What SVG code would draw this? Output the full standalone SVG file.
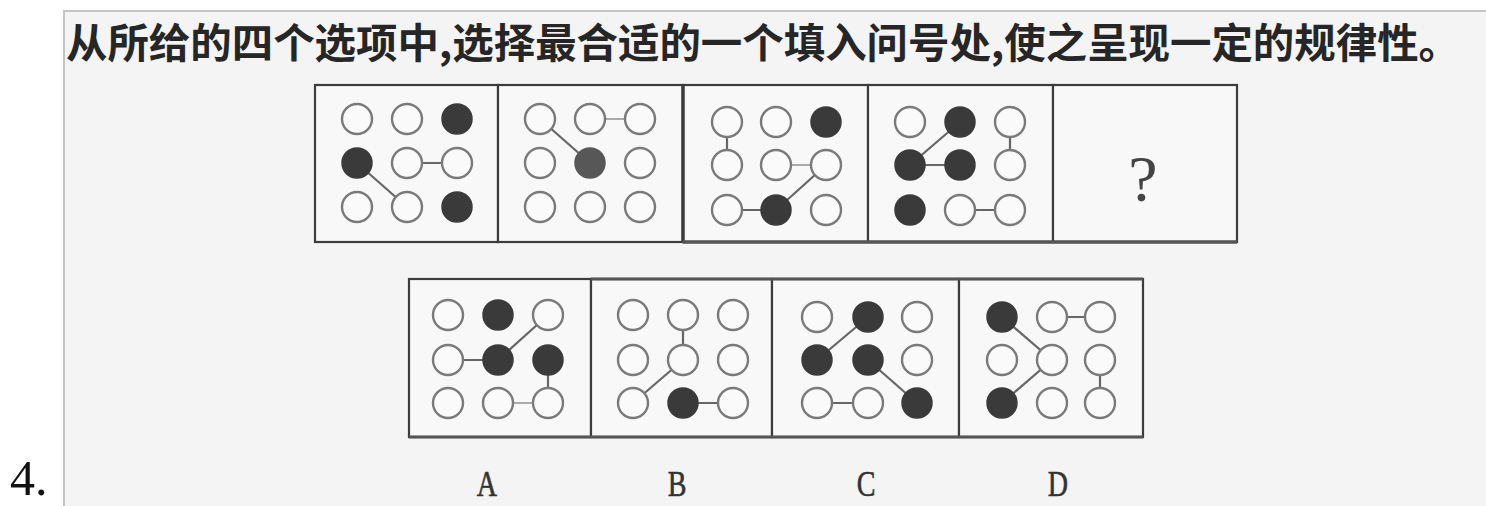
<svg xmlns="http://www.w3.org/2000/svg" width="1486" height="506" viewBox="0 0 1486 506">
<style>
.frame{fill:#f4f4f4;stroke:#c4c4c4;stroke-width:2}
.panel{fill:#f8f8f8;stroke:#3c3c3c;stroke-width:2.2}
.o{fill:#fafafa;stroke:#7a7a7a;stroke-width:2.4}
.f{fill:#3a3a3a;stroke:#3a3a3a;stroke-width:1.5}
.f2{fill:#575757;stroke:#575757;stroke-width:1.5}
.ln{stroke:#666;stroke-width:2.2;fill:none}
.lnf{stroke:#aaa;stroke-width:2;fill:none}
.title{font-family:"Noto Sans CJK SC","Noto Sans CJK TC",sans-serif;font-weight:bold;font-size:41px;fill:#262626}
.lab{font-family:"Liberation Serif",serif;font-size:36px;fill:#333;stroke:#333;stroke-width:0.6;text-anchor:middle}
</style>
<rect x="0" y="0" width="1486" height="506" fill="#ffffff"/>
<rect class="frame" x="64" y="11" width="1430" height="500"/>
<text class="title" x="66" y="58" textLength="1394" lengthAdjust="spacingAndGlyphs">从所给的四个选项中,选择最合适的一个填入问号处,使之呈现一定的规律性。</text>
<text x="10" y="495" font-family="Liberation Serif,serif" font-size="50" fill="#111">4.</text>

<g id="panels">
<rect class="panel" x="315" y="85" width="183" height="157"/>
<rect class="panel" x="498" y="85" width="185" height="157"/>
<rect class="panel" x="683" y="85" width="185" height="157"/>
<rect class="panel" x="868" y="85" width="185" height="157"/>
<rect class="panel" x="1053" y="85" width="184" height="157"/>
<line x1="683" y1="85" x2="683" y2="242" stroke="#3c3c3c" stroke-width="3.5"/>
<line x1="683" y1="242" x2="1237" y2="242" stroke="#555" stroke-width="3.5"/>
<rect class="panel" x="409" y="279" width="182" height="158"/>
<rect class="panel" x="591" y="279" width="181" height="158"/>
<rect class="panel" x="772" y="279" width="187" height="158"/>
<rect class="panel" x="959" y="279" width="184" height="158"/>
<line x1="591" y1="279" x2="1143" y2="279" stroke="#555" stroke-width="3"/>
<line x1="409" y1="437" x2="1143" y2="437" stroke="#555" stroke-width="3"/>
</g>

<g id="connectors">
<line class="ln" x1="407" y1="163" x2="457" y2="163"/>
<line class="ln" x1="357" y1="163" x2="407" y2="207"/>
<line class="lnf" x1="590" y1="119" x2="640" y2="119"/>
<line class="ln" x1="540" y1="119" x2="590" y2="163"/>
<line class="ln" x1="727" y1="122" x2="727" y2="165"/>
<line class="lnf" x1="776" y1="165" x2="826" y2="165"/>
<line class="ln" x1="727" y1="210" x2="776" y2="210"/>
<line class="ln" x1="776" y1="210" x2="826" y2="165"/>
<line class="ln" x1="910" y1="165" x2="960" y2="122"/>
<line class="ln" x1="910" y1="165" x2="960" y2="165"/>
<line class="ln" x1="1010" y1="122" x2="1010" y2="165"/>
<line class="ln" x1="960" y1="210" x2="1010" y2="210"/>
<line class="ln" x1="448" y1="360" x2="498" y2="360"/>
<line class="ln" x1="498" y1="360" x2="548" y2="315"/>
<line class="ln" x1="548" y1="360" x2="548" y2="403"/>
<line class="lnf" x1="498" y1="403" x2="548" y2="403"/>
<line class="ln" x1="683" y1="315" x2="683" y2="360"/>
<line class="ln" x1="683" y1="360" x2="633" y2="403"/>
<line class="ln" x1="683" y1="403" x2="733" y2="403"/>
<line class="ln" x1="817" y1="360" x2="868" y2="317"/>
<line class="ln" x1="868" y1="360" x2="917" y2="403"/>
<line class="ln" x1="817" y1="403" x2="868" y2="403"/>
<line class="ln" x1="1052" y1="317" x2="1100" y2="317"/>
<line class="ln" x1="1002" y1="317" x2="1052" y2="360"/>
<line class="ln" x1="1052" y1="360" x2="1002" y2="403"/>
<line class="ln" x1="1100" y1="360" x2="1100" y2="403"/>
</g>

<g id="fig1">
<circle class="o" cx="357" cy="119" r="15"/><circle class="o" cx="407" cy="119" r="15"/><circle class="f" cx="457" cy="119" r="15"/>
<circle class="f" cx="357" cy="163" r="15"/><circle class="o" cx="407" cy="163" r="15"/><circle class="o" cx="457" cy="163" r="15"/>
<circle class="o" cx="357" cy="207" r="15"/><circle class="o" cx="407" cy="207" r="15"/><circle class="f" cx="457" cy="207" r="15"/>
</g>
<g id="fig2">
<circle class="o" cx="540" cy="119" r="15"/><circle class="o" cx="590" cy="119" r="15"/><circle class="o" cx="640" cy="119" r="15"/>
<circle class="o" cx="540" cy="163" r="15"/><circle class="f2" cx="590" cy="163" r="15"/><circle class="o" cx="640" cy="163" r="15"/>
<circle class="o" cx="540" cy="207" r="15"/><circle class="o" cx="590" cy="207" r="15"/><circle class="o" cx="640" cy="207" r="15"/>
</g>
<g id="fig3">
<circle class="o" cx="727" cy="122" r="15"/><circle class="o" cx="776" cy="122" r="15"/><circle class="f" cx="826" cy="122" r="15"/>
<circle class="o" cx="727" cy="165" r="15"/><circle class="o" cx="776" cy="165" r="15"/><circle class="o" cx="826" cy="165" r="15"/>
<circle class="o" cx="727" cy="210" r="15"/><circle class="f" cx="776" cy="210" r="15"/><circle class="o" cx="826" cy="210" r="15"/>
</g>
<g id="fig4">
<circle class="o" cx="910" cy="122" r="15"/><circle class="f" cx="960" cy="122" r="15"/><circle class="o" cx="1010" cy="122" r="15"/>
<circle class="f" cx="910" cy="165" r="15"/><circle class="f" cx="960" cy="165" r="15"/><circle class="o" cx="1010" cy="165" r="15"/>
<circle class="f" cx="910" cy="210" r="15"/><circle class="o" cx="960" cy="210" r="15"/><circle class="o" cx="1010" cy="210" r="15"/>
</g>
<g id="fig5">
<text x="1143" y="201" font-family="Liberation Serif,serif" font-size="66" fill="#444" text-anchor="middle">?</text>
</g>
<g id="optA">
<circle class="o" cx="448" cy="315" r="15"/><circle class="f" cx="498" cy="315" r="15"/><circle class="o" cx="548" cy="315" r="15"/>
<circle class="o" cx="448" cy="360" r="15"/><circle class="f" cx="498" cy="360" r="15"/><circle class="f" cx="548" cy="360" r="15"/>
<circle class="o" cx="448" cy="403" r="15"/><circle class="o" cx="498" cy="403" r="15"/><circle class="o" cx="548" cy="403" r="15"/>
</g>
<g id="optB">
<circle class="o" cx="633" cy="315" r="15"/><circle class="o" cx="683" cy="315" r="15"/><circle class="o" cx="733" cy="315" r="15"/>
<circle class="o" cx="633" cy="360" r="15"/><circle class="o" cx="683" cy="360" r="15"/><circle class="o" cx="733" cy="360" r="15"/>
<circle class="o" cx="633" cy="403" r="15"/><circle class="f" cx="683" cy="403" r="15"/><circle class="o" cx="733" cy="403" r="15"/>
</g>
<g id="optC">
<circle class="o" cx="817" cy="317" r="15"/><circle class="f" cx="868" cy="317" r="15"/><circle class="o" cx="917" cy="317" r="15"/>
<circle class="f" cx="817" cy="360" r="15"/><circle class="f" cx="868" cy="360" r="15"/><circle class="o" cx="917" cy="360" r="15"/>
<circle class="o" cx="817" cy="403" r="15"/><circle class="o" cx="868" cy="403" r="15"/><circle class="f" cx="917" cy="403" r="15"/>
</g>
<g id="optD">
<circle class="f" cx="1002" cy="317" r="15"/><circle class="o" cx="1052" cy="317" r="15"/><circle class="o" cx="1100" cy="317" r="15"/>
<circle class="o" cx="1002" cy="360" r="15"/><circle class="o" cx="1052" cy="360" r="15"/><circle class="o" cx="1100" cy="360" r="15"/>
<circle class="f" cx="1002" cy="403" r="15"/><circle class="o" cx="1052" cy="403" r="15"/><circle class="o" cx="1100" cy="403" r="15"/>
</g>
<g id="labels">
<text class="lab" x="487" y="496" transform="translate(487 0) scale(0.78 1) translate(-487 0)">A</text>
<text class="lab" x="677" y="496" transform="translate(677 0) scale(0.78 1) translate(-677 0)">B</text>
<text class="lab" x="866" y="496" transform="translate(866 0) scale(0.78 1) translate(-866 0)">C</text>
<text class="lab" x="1058" y="496" transform="translate(1058 0) scale(0.78 1) translate(-1058 0)">D</text>
</g>
</svg>
